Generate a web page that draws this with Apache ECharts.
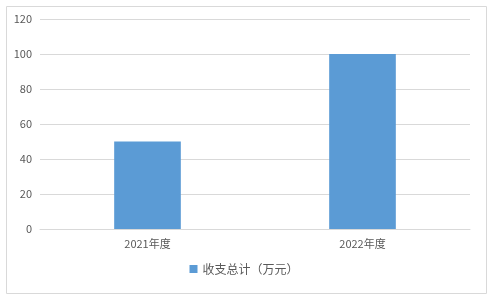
<!DOCTYPE html>
<html><head><meta charset="utf-8">
<script src="https://cdn.jsdelivr.net/npm/echarts@6/dist/echarts.min.js"></script>
<style>html,body{margin:0;padding:0;background:#fff}#c{width:488px;height:296px}</style>
</head><body><div id="c"></div>
<script>
const categories = ['2021年度', '2022年度'];
const seriesName = '收支总计（万元）';
const values = [50, 100];

const chart = echarts.init(document.getElementById('c'));
const font = '"Noto Sans CJK SC", "Noto Sans", sans-serif';
chart.setOption({
  animation: false,
  textStyle: { fontFamily: font },
  graphic: [{ type: 'rect', left: 4, top: 4, shape: { width: 480, height: 287 }, style: { fill: 'none', stroke: '#d9d9d9', lineWidth: 1 }, silent: true }],
  grid: { left: 40, right: 18, top: 19, bottom: 67, containLabel: false },
  legend: {
    bottom: 16, left: 'center', itemWidth: 8, itemHeight: 8, itemGap: 6,
    icon: 'rect',
    textStyle: { color: '#595959', fontSize: 12, fontFamily: font },
    data: [seriesName]
  },
  xAxis: {
    type: 'category', data: categories,
    axisLine: { lineStyle: { color: '#d9d9d9' } },
    axisTick: { show: false },
    axisLabel: { color: '#595959', fontSize: 11, margin: 9, fontFamily: font }
  },
  yAxis: {
    type: 'value', min: 0, max: 120, interval: 20,
    axisLine: { show: false }, axisTick: { show: false },
    splitLine: { lineStyle: { color: '#d9d9d9' } },
    axisLabel: { color: '#595959', fontSize: 11, margin: 8, fontFamily: font }
  },
  series: [{
    name: seriesName, type: 'bar', data: values, barWidth: '31%',
    itemStyle: { color: '#5b9bd5' }
  }]
});
</script></body></html>
